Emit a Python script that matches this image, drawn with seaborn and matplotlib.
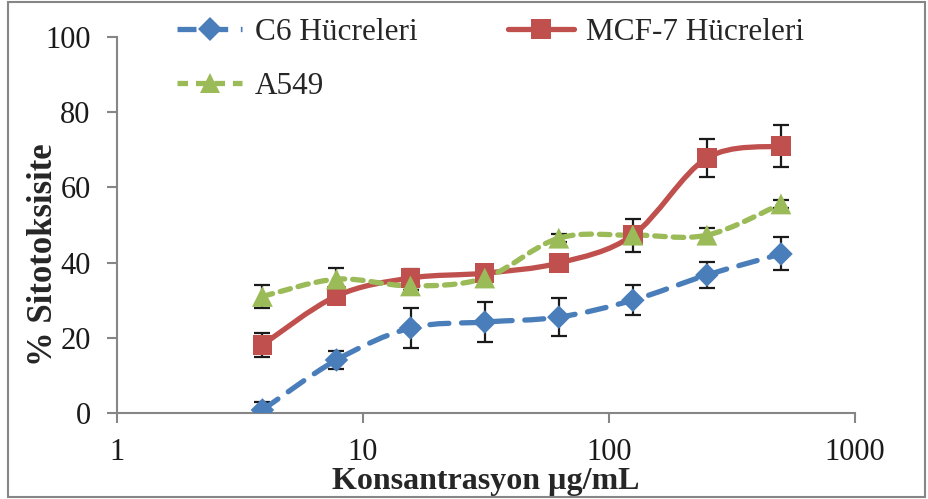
import numpy as np
import matplotlib
matplotlib.use("Agg")
import matplotlib.pyplot as plt
from matplotlib.path import Path
from matplotlib.patches import PathPatch, Rectangle
import seaborn as sns
import pandas as pd

conc = [3.9, 7.8, 15.6, 31.25, 62.5, 125, 250, 500]
c6 = [0.8, 14.1, 22.6, 24.2, 25.5, 30.0, 36.7, 42.3]
c6_err = [2.0, 2.3, 5.2, 5.2, 5.0, 4.0, 3.5, 4.4]
mcf7 = [18.1, 31.1, 35.9, 37.2, 39.9, 47.3, 67.8, 71.0]
mcf7_err = [3.3, 1.0, 2.5, 1.0, 1.0, 4.4, 5.0, 5.7]
a549 = [31.0, 35.6, 33.8, 35.9, 46.5, 47.3, 47.3, 55.6]
a549_err = [3.0, 3.0, 1.0, 1.0, 1.0, 1.0, 2.0, 1.0]
labels = ["C6 Hücreleri", "MCF-7 Hücreleri", "A549"]
xticks = [1, 10, 100, 1000]
yticks = [0, 20, 40, 60, 80, 100]

colors = ["#4A7EBB", "#C0504D", "#9BBB59"]
markers = ["D", "s", "^"]
msizes = [12, 14, 15]
dashes = [(3.6, 2.4), None, (2.0, 1.5)]

sns.set_style("white")
plt.rcParams['font.family'] = ['Liberation Serif', 'DejaVu Serif']

fig = plt.figure(figsize=(9.29, 4.99), dpi=100)
ax = fig.add_axes([117/929, 1-413/499, (855-117)/929, (413-37)/499])
ax.set_xscale("log")


def smooth_path(xs, ys):
    lx = np.log10(xs)
    ys = np.asarray(ys, float)
    pts = np.column_stack([lx, ys])
    verts = [pts[0]]
    codes = [Path.MOVETO]
    n = len(pts)
    for i in range(n - 1):
        p0 = pts[i - 1] if i > 0 else pts[i]
        p1 = pts[i]
        p2 = pts[i + 1]
        p3 = pts[i + 2] if i + 2 < n else pts[i + 1]
        c1 = p1 + (p2 - p0) / 6.0
        c2 = p2 - (p3 - p1) / 6.0
        verts += [c1, c2, p2]
        codes += [Path.CURVE4] * 3
    verts = np.array(verts)
    verts[:, 0] = 10 ** verts[:, 0]
    return Path(verts, codes)


series = [c6, mcf7, a549]
errs = [c6_err, mcf7_err, a549_err]
LW = 3.8

handles = []
for i, (lab, ys, er) in enumerate(zip(labels, series, errs)):
    ax.errorbar(conc, ys, yerr=er, fmt="none", ecolor="#1a1a1a", elinewidth=1.6,
                capsize=6, capthick=1.6, zorder=2)
    pp = PathPatch(smooth_path(conc, ys), facecolor="none", edgecolor=colors[i],
                   lw=LW, zorder=3, capstyle="round")
    if dashes[i] is not None:
        pp.set_linestyle((0, dashes[i]))
    ax.add_patch(pp)
    d = pd.DataFrame({"conc": conc, "val": ys})
    sns.scatterplot(data=d, x="conc", y="val", color=colors[i], marker=markers[i],
                    s=msizes[i] ** 2, edgecolor="none", ax=ax, legend=False, zorder=4)
    h, = ax.plot([], [], color=colors[i], lw=LW, marker=markers[i],
                 markersize=msizes[i], markeredgewidth=0, label=lab,
                 linestyle="-" if dashes[i] is None else (0, dashes[i]))
    handles.append(h)

ax.set_xlim(1, 1000)
ax.set_ylim(0, 100)
ax.set_xticks(xticks)
ax.set_xticklabels([str(t) for t in xticks])
ax.set_yticks(yticks)
ax.set_yticklabels([str(t) for t in yticks])
ax.xaxis.set_minor_locator(matplotlib.ticker.NullLocator())

for s in ["top", "right"]:
    ax.spines[s].set_visible(False)
for s in ["left", "bottom"]:
    ax.spines[s].set_color("#868686")
    ax.spines[s].set_linewidth(1.5)
ax.tick_params(axis="both", direction="out", length=7, width=1.5, color="#868686",
               labelsize=22, labelcolor="#1a1a1a", left=True, bottom=True)
ax.tick_params(axis="x", pad=11)
ax.tick_params(axis="y", pad=12)

ax.set_xlabel("Konsantrasyon µg/mL", fontsize=23, fontweight="bold")
ax.xaxis.set_label_coords(0.5, -(489 - 413) / 376, transform=ax.transAxes)
ax.xaxis.label.set_va("baseline")
ax.set_ylabel("% Sitotoksisite", fontsize=25, fontweight="bold")
ax.yaxis.set_label_coords(-0.10, 0.42)
ax.yaxis.label.set_va("center")

leg = ax.legend(handles=[handles[0], handles[2], handles[1]], ncol=2, loc="upper left",
                bbox_to_anchor=(0.043, 1.125), frameon=False, fontsize=22.5,
                handlelength=2.1, columnspacing=2.9, labelspacing=0.8,
                handletextpad=0.4)

fig.patches.append(Rectangle((8/929, 2/499), 917/929, 495/499, transform=fig.transFigure,
                             fill=False, edgecolor="#868686", lw=1.5))

fig.savefig("out.png", dpi=100)
